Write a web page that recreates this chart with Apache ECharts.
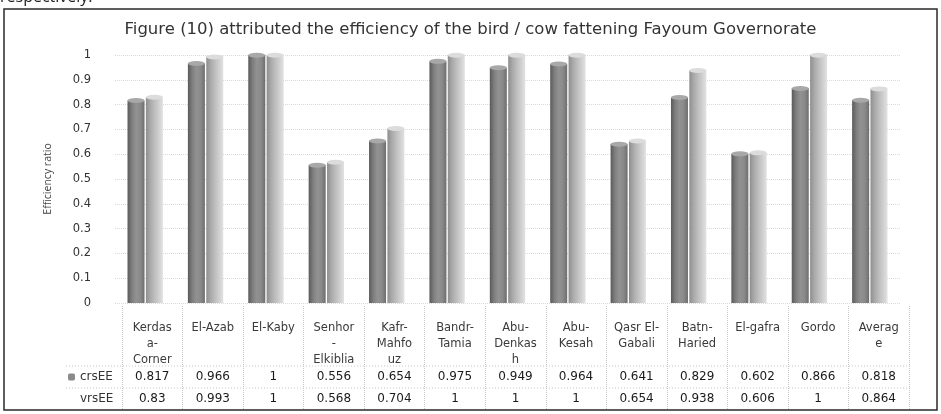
<!DOCTYPE html>
<html>
<head>
<meta charset="utf-8">
<script src="https://cdn.jsdelivr.net/npm/echarts@6/dist/echarts.min.js"></script>
<style>html,body{margin:0;padding:0;background:#fff}#c{width:941px;height:414px}</style>
</head>
<body>
<div id="c"></div>
<script>
const categories = ['Kerdasa-Corner','El-Azab','El-Kaby','Senhor-Elkiblia','Kafr-Mahfouz','Bandr-Tamia','Abu-Denkash','Abu-Kesah','Qasr El-Gabali','Batn-Haried','El-gafra','Gordo','Average'];
const categoryTickLabels = ['Kerdas\na-\nCorner','El-Azab','El-Kaby','Senhor\n-\nElkiblia','Kafr-\nMahfo\nuz','Bandr-\nTamia','Abu-\nDenkas\nh','Abu-\nKesah','Qasr El-\nGabali','Batn-\nHaried','El-gafra','Gordo','Averag\ne'];
const crsEE = [0.817,0.966,1,0.556,0.654,0.975,0.949,0.964,0.641,0.829,0.602,0.866,0.818];
const vrsEE = [0.83,0.993,1,0.568,0.704,1,1,1,0.654,0.938,0.606,1,0.864];
const seriesNames = ['crsEE','vrsEE'];
const titleText = 'Figure (10) attributed the efficiency of the bird / cow fattening Fayoum Governorate';
const yAxisName = 'Efficiency ratio';

const chart = echarts.init(document.getElementById('c'), null, {renderer:'canvas'});
const grad = (stops) => new echarts.graphic.LinearGradient(0,0,1,0, stops.map((c,i)=>({offset:i/(stops.length-1), color:c})));
const crsColor = grad(['#5a5a5a','#7e7e7e','#929292','#8a8a8a','#6e6e6e']);
const vrsColor = grad(['#8e8e8e','#a9a9a9','#bdbdbd','#cfcfcf','#e2e2e2']);
const lblFont = 'DejaVu Sans';

chart.setOption({
  animation:false,
  backgroundColor:'#fff',
  title:{text:titleText,left:'center',top:16,textStyle:{fontFamily:'DejaVu Sans',fontSize:16.5,fontWeight:'normal',color:'#333'}},
  legend:{
    orient:'vertical',left:68,top:370,padding:0,itemWidth:7,itemHeight:7,itemGap:8,
    textStyle:{fontFamily:lblFont,fontSize:12,color:'#333',lineHeight:14,width:36,align:'right'},
    data:[{name:'crsEE',itemStyle:{color:'#8a8a8a'}},{name:'vrsEE',itemStyle:{opacity:0}}],
    selectedMode:false
  },
  grid:[
    {left:115,right:41,top:55,bottom:111},
    {left:122,right:32,top:306,bottom:4}
  ],
  xAxis:[
    {type:'category',gridIndex:0,data:categories,axisLine:{show:false},axisTick:{show:false},axisLabel:{show:false},splitLine:{show:false}},
    {type:'category',gridIndex:1,data:categories,position:'top',axisLine:{show:false},axisTick:{show:false},
      splitLine:{show:true,lineStyle:{color:'#c8c8c8',type:'dotted',width:1}},
      axisLabel:{interval:0,inside:true,margin:14,verticalAlign:'top',lineHeight:16,fontFamily:lblFont,fontSize:11.5,color:'#3a3a3a',
        formatter:(v,i)=>categoryTickLabels[i]}},
    {type:'category',gridIndex:1,data:categories,position:'top',axisLine:{show:false},axisTick:{show:false},splitLine:{show:false},
      axisLabel:{interval:0,inside:true,margin:64,verticalAlign:'top',lineHeight:14,fontFamily:lblFont,fontSize:12,color:'#1a1a1a',
        formatter:(v,i)=>String(crsEE[i])}},
    {type:'category',gridIndex:1,data:categories,position:'top',axisLine:{show:false},axisTick:{show:false},splitLine:{show:false},
      axisLabel:{interval:0,inside:true,margin:86,verticalAlign:'top',lineHeight:14,fontFamily:lblFont,fontSize:12,color:'#1a1a1a',
        formatter:(v,i)=>String(vrsEE[i])}}
  ],
  yAxis:[
    {type:'value',gridIndex:0,min:0,max:1,interval:0.1,name:yAxisName,nameLocation:'middle',nameGap:61,
      nameTextStyle:{fontFamily:'Open Sans',fontSize:10.5,color:'#444'},
      axisLine:{show:false},axisTick:{show:false},
      axisLabel:{margin:24,fontFamily:lblFont,fontSize:11.5,color:'#333'},
      splitLine:{show:true,lineStyle:{color:'#dadada',type:'dotted'}}},
    {type:'value',gridIndex:1,show:false,min:0,max:1}
  ],
  series:[
    {name:seriesNames[0],type:'bar',xAxisIndex:0,yAxisIndex:0,data:crsEE,barWidth:17,barGap:'8%',itemStyle:{color:crsColor}},
    {name:seriesNames[1],type:'bar',xAxisIndex:0,yAxisIndex:0,data:vrsEE,barWidth:17,barGap:'8%',itemStyle:{color:vrsColor}},
    {name:seriesNames[0]+'cap',type:'pictorialBar',xAxisIndex:0,yAxisIndex:0,data:crsEE,barWidth:17,barGap:'8%',symbol:'circle',
      symbolSize:[17,5],symbolPosition:'end',symbolOffset:[0,'-50%'],z:3,
      itemStyle:{color:'#a8a8a8',borderColor:'#555',borderWidth:0.6},legendHoverLink:false},
    {name:seriesNames[1]+'cap',type:'pictorialBar',xAxisIndex:0,yAxisIndex:0,data:vrsEE,barWidth:17,barGap:'8%',symbol:'circle',
      symbolSize:[17,5],symbolPosition:'end',symbolOffset:[0,'-50%'],z:3,
      itemStyle:{color:'#dcdcdc',borderColor:'#8a8a8a',borderWidth:0.6},legendHoverLink:false}
  ],
  graphic:[
    {type:'text',left:0,top:-11,style:{text:'respectively.',fontFamily:'Open Sans',fontSize:16,fill:'#222'}},
    {type:'rect',shape:{x:4,y:9,width:933,height:401},style:{fill:'none',stroke:'#2a2a2a',lineWidth:1.5},z:100},
    {type:'line',shape:{x1:66,y1:366,x2:912,y2:366},style:{stroke:'#c8c8c8',lineWidth:1,lineDash:[1,2]}},
    {type:'line',shape:{x1:66,y1:388,x2:912,y2:388},style:{stroke:'#c8c8c8',lineWidth:1,lineDash:[1,2]}}
  ]
});
</script>
</body>
</html>
